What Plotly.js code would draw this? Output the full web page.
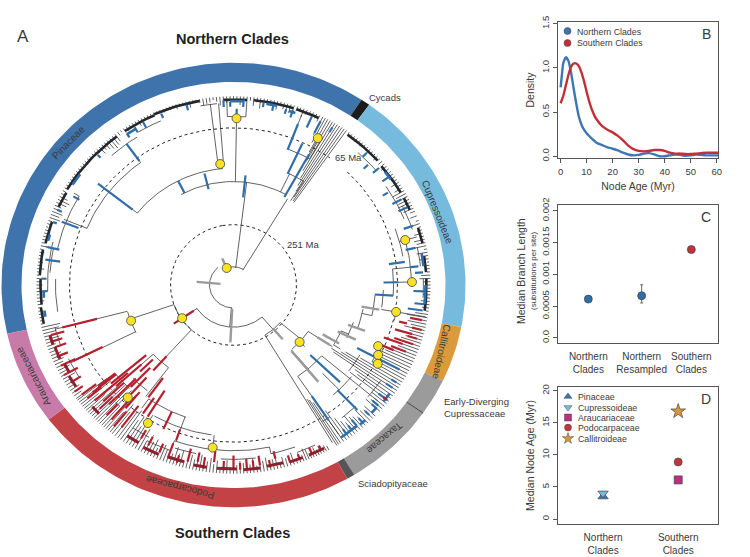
<!DOCTYPE html>
<html><head><meta charset="utf-8">
<script src="https://cdn.plot.ly/plotly-3.0.1.min.js"></script>
<style>html,body{margin:0;padding:0;background:#fff}</style></head>
<body><div id="chart" style="width:750px;height:557px"></div>
<script>
// ---------- Panel A: clade ring [name, start angle, end angle] (deg clockwise from top)
const ringNames = ['Pinaceae','Cycads','Cupressoideae','Callitroideae','Early-Diverging Cupressaceae','Taxaceae','Sciadopityaceae','Podocarpaceae','Araucariaceae'];
const ringStart = [-102.7,33.5,35.8,100.9,115.5,125.2,148.6,150.6,232.8];
const ringEnd   = [33.5,35.8,100.9,115.5,125.2,148.6,150.6,232.8,257.3];
const ringColor = ['#3f73ab','#1c1c1c','#76badd','#db9b3c','#9b9b9b','#9b9b9b','#555555','#c24245','#c87aa8'];
const ringInner = 212, ringOuter = 232;
const timeCircles = [164,63];   // 65 Ma, 251 Ma
const tipRadius = 197;

// internal arcs [radius, from angle, to angle]
const arcs = [
 [19,-21,31],[24,183,320],[44,139.5,236.6],
 [108,-29,29],[122,-52,-5],[158,-68,-36],[180,-78,-59],[186,-92,-76],[127,-7,-4.5],
 [178,-99,-88],[184,-86,-78],[182,-42,-32],[186,-31,-23],[190,-10,-5],[176,-2,4],[129,25,33],[152,21,30],
 [61,130,149],[89,123,139],[115,130,146],[118,114,122],[126,108,116],[132,101,110],[142,94,103],[150,92,99],
 [160,84,94],[178,74,89],[172,70,80],[165,99,103],[184,56,68],[186,42,50],[188,64,72],[188,78,84],[190,88,94],
 [146,120,128],[160,113,120],[152,129,139],[176,136,142],[178,124,131],[168,145,148],
 [63,221,251],[109.5,243,255],[108,217,228],[146,199,215.5],[158,188,210],[173,168,200],[182,238,245],[184,250,256],
 [180,192,199],[182,173,184],[184,200,208],[180,160,168],[180,208,214],[186,154,160],[170,222,224],[150,224,232],[140,218,226]
];
// internal radial branches [angle, from radius, to radius]
const branches = [
 [7,18,108],[31,18,105],[-21,19,24],[185,24,44],[275,24,26],[139.5,44,61],[236,44,63],
 [-52,122,158],[-36,158,182],[-68,158,183],[-59,180,186],[-78,180,192],[-27,108,122],[-6,122,127],[-7,127,190],[-4.5,127,190],
 [1,108,176],[-2,176,192],[4,176,192],[29,105,175],[25.8,108,129],[33,105,129],[21,152,190],[25,129,152],[30,152,175],
 [130,61,89],[149,61,192],[132,89,96],[123,89,118],[139.5,89,115],[146,115,188],[130,115,188],[133.6,115,128],
 [136,128,152],[122,118,126],[114,118,126],[110,126,132],[103,132,142],[94,142,160],[99.8,150,195],[89,160,178],[74.7,172,190],[84,160,178],
 [251,63,109.5],[255.5,109.5,184],[243.5,109.5,182],[222,63,108],[228,108,150],[217,108,146],[215.5,146,158],[199.4,146,173],
 [187,158,173],[168,173,180],[200,173,180],[210.7,158,172],[222,140,158]
];
// Tree tips: start radius of each tip line, all run out to tipRadius
const pinaceaeAngle = [-102,-101,-100,-99,-98,-97,-96,-95,-94,-93,-92,-91,-90,-89,-88,-87,-86,-85,-84,-83,-82,-81,-80,-79,-78,-77,-76,-75,-74,-73,-72,-71,-70,-69,-68,-67,-66,-65,-64,-63,-62,-61,-60,-59,-58,-57,-56,-55,-54,-53,-52,-51,-50,-49,-48,-47,-46,-45,-44,-43,-42,-41,-40,-39,-38,-37,-36,-35,-34,-33,-32,-31,-30,-29,-28,-27,-26,-25,-24,-23,-22,-21,-20,-19,-18,-17,-16,-15,-14,-13,-12,-11,-10,-9,-8,-7,-6,-5,-4,-3,-2,-1,0,1,2,3,4,5,6,7,8,9,10,11,12,13,14,15,16,17,18,19,20,21,22,23,24,25,26];
const pinaceaeStart = [193,194,193,192,194,193,192,190,193,195,192,193,191,193,194,195,193,190,194,192,195,193,192,195,188,194,192,193,191,193,195,192,193,186,188,186,188,190,186,184,188,193,194,193,194,193,195,193,195,194,193,194,195,194,193,195,194,193,192,188,190,188,186,184,186,188,193,195,192,189,194,192,194,190,195,195,194,195,194,194,195,193,195,193,194,192,195,194,193,190,195,194,193,190,191,192,194,192,188,192,190,193,192,192,188,186,192,193,188,192,186,193,191,195,192,188,193,190,186,188,190,192,195,188,192,193,195,192,190];
const cupressAngle = [36,37,38,39,40,41,42,43,44,45,46,47,48,49,50,51,52,53,54,55,56,57,58,59,60,61,62,63,64,65,66,67,68.5,70,71,72,73,74,75,76,77,78,79,80,81,82,83,84,85,86,87,88,89,90,91,92,93,94,95,96,97,98,99];
const cupressStart = [195,195,194,193,195,192,194,195,191,194,193,191,195,192,194,190,193,195,188,192,194,188,192,188,184,186,182,185,183,186,186,192,190,194,188,195,192,188,194,186,188,184,194,186,190,188,195,190,192,194,188,186,190,192,194,186,190,192,188,192,190,194,184];
const callitAngle = [100,101,102,103,104,105,106,107,108,109,110,111,112,113,114];
const callitStart = [176,180,178,182,176,182,178,180,176,178,172,176,170,174,166];
const fanAngle = [115,116,117,118,119,120,121,122,123,124,125,126,127,128,129,130,131,132];
const fanStart = [160,162,164,150,166,160,148,132,128,118,122,150,155,148,178,184,182,178];
const taxaceaeAngle = [134,135,136,137,138,139,140,141,142,143,144,145,146,147,147.7,148.3];
const taxaceaeStart = [182,184,182,178,185,182,180,176,182,178,172,160,150,146,142,140];
const podoAngle = [151,151.8,152.6,153.4,154.2,155,155.8,156.6,157.4,158.2,159,160,161,162,163,164,165,166,167,168,169,170,171,172,173,174,175,176,177,178,179,180,181,182,183,184,185,186,187,188,189,190,191,192,193,194,195,196,197,198,199,200,201,202,203,204,205,206,207,208,209,210,211,212,213,214,215,216,217];
const podoStart = [192,190,192,188,191,187,190,192,186,184,190,187,192,184,190,188,186,191,184,186,192,183,186,182,190,182,188,183,186,184,188,182,190,183,186,191,184,188,182,186,190,180,183,186,182,185,190,180,184,178,186,182,184,180,190,186,178,182,176,184,172,178,168,174,164,170,160,164,158];
const bigFanAngle = [218,218.8,219.6,220.4,221.2,222,222.8,223.6,224.4,225.2,226,226.8,227.6,228.4,229.2,230,230.8,231.6,232.4,233];
const bigFanStart = [168,160,172,150,162,170,150,156,142,165,150,168,152,172,160,176,158,172,160,176];
const arauAngle = [234,235,236,237,238,239,240,241,242,243,244,245,246,247,248,249,250,251,252,253,254,255,256,257];
const arauStart = [188,190,186,190,186,188,183,186,190,184,180,188,186,190,186,190,184,188,186,182,188,184,180,178];
const cycadAngle = [27,27.8,28.6,29.4,30.2,31,31.8,32.6,33.4,34.2,35];
const cycadStart = [176,168,158,148,138,130,122,116,110,106,105];
// dense tip clusters seen as a solid band [radius, from angle, to angle]
const bandDark = [[194,-102,-97],[193,-96,-88],[194,-87,-79],[193,-77,-70],[193,-65,-60],[194,-59,-37],[194,-34,-24],[195,-24,-10],[193.5,-3,4],[194,6,18],[194,19,26],[194,36,48],[193,50,60],[193,62,66],[194,72,77],[193,81,86],[193,88,98]];
const bandBlue = [[191,-100,-98],[190,-94,-92],[191,-76,-74],[192,-57,-53],[190,-34,-31],[192,-1,3],[192,10,13],[190,17,19],[192,52,55],[191,80,84],[192,90,96],[193,126,129],[192,132,134],[193,137,139],[192,140,146]];
const bandRed = [[190,236,240],[188,241,244],[190,246,250],[191,251,254],[193,152,157],[193,159,163],[192,165,170],[193,172,177],[192,179,185],[192,188,192],[191,195,200],[192,203,208],[190,210,214],[190,225,228]];

// thick branch-rate bars [angle, from radius, to radius]
const blueBars = [
 [-52,128,172],[-36,160,182],[-69,166,184],[-78,178,190],[-82,175,190],[-60,178,185],[-27,108,122],[-14,103,120],[6,92,115],
 [29,105,156],[25,128,163],[21,151,180],[1,174,184],[-31,186,192],[-28,186,193],[-92,186,192],[-88,187,192],[-70,188,192],
 [-66,188,193],[-45,188,192],[-34,186,191],[-22,188,193],[-14,188,194],[-3,186,193],[3,186,194],[-1,186,191],[9,188,193],[12,186,192],[16,186,191],[18,184,192],[24,180,193],[27,178,192],[31,186,192],
 [82,157,173],[84,178,186],[89,150,165],[94,142,160],[92,180,190],[78,176,186],[71,180,190],[86,182,190],[96,182,192],[98,176,191],[44,186,192],[50,182,190],[54,184,192],[58,176,182],[62,180,190],[65,182,192],[47,178,184],
 [133.6,106,147],[136.5,151,180],[146,140,170],[118,140,188],[122,186,192],[124,184,192],[128,184,192],[131,184,192],[132,186,193],[135,186,192],[138,187,193],[140,184,192],[142,186,192],[144,186,193]
];
const redBars = [
 [236,48,72],[255.5,141,177],[243.7,146,179],[222,100,120],[226,112,130],[230,114,160],[232,150,172],[228,124,158],[222,130,160],[224,120,148],[227,150,178],[220,146,168],
 [231,170,188],[229,170,184],[226,168,186],[223,170,186],[216,120,145],[212,130,162],[205,146,166],[199.5,160,172],[214,142,162],[217,158,186],[210,175,185],[207,178,188],
 [203,180,190],[194,176,190],[191,178,188],[186,174,186],[180,178,192],[176,182,192],[172,180,190],[167,178,186],[200,184,192],[197,186,194],[189,182,194],[183,184,194],[178,186,193],[174,184,194],[169,186,194],[163,186,194],[160,188,194],[156,186,194],[153,188,194],[200,176,184],
 [238,180,192],[241,178,194],[244,176,192],[247,180,192],[250,178,190],[252,180,192],[254,176,190],[235,184,194],[233,172,190],[231.5,150,180],[229,140,172],[225,138,176],[221,160,186],[219,170,190],
 [101,180,192],[103,170,178],[104,184,194],[106,168,186],[107,182,192],[109,170,190],[110,160,180],[112,170,186],[113,158,174],[128,190,195]
];
const grayBars = [[183,25,60],[275,13,37],[-22,23,30],[139,60,75],[140,90,132],[100,130,148],[110,122,140],[115,115,135],[120,103,122],[123,100,115]];
// yellow dated nodes
const nodeAngle = [-21,-6,1,28.8,74.7,89,99.8,113.8,116.8,119.7,132,236,250,222,210.7,187];
const nodeRadius = [19,127,174,175,178,178.5,165,158,162,166,89,62,109,158,167.6,171];

// ---------- Panel B: density curves
const ageNorth = [0,0.5,1,2,3,4,5,6,7,8,9,10,12,14,16,18,20,22,24,26,28,30,32,34,36,38,40,42,44,46,48,50,52,54,56,58,60.5];
const densNorth = [.78,.92,1.05,1.12,1.08,.95,.77,.6,.45,.36,.3,.26,.2,.15,.125,.1,.085,.065,.04,.02,.01,.015,.03,.035,.02,0,0,.01,.02,.015,.005,.01,.02,.015,.01,.01,.01];
const ageSouth = [0,1,2,3,4,5,6,7,8,9,10,11,12,13,14,16,18,20,22,24,26,28,30,32,34,36,38,40,42,44,46,48,50,52,54,56,58,60.5];
const densSouth = [.6,.68,.8,.92,1.01,1.05,1.05,1.02,.95,.85,.73,.62,.53,.46,.41,.34,.3,.27,.23,.18,.12,.08,.06,.055,.06,.07,.07,.06,.04,.03,.03,.025,.025,.03,.035,.04,.04,.04];
// ---------- Panel C
const branchGroups = ['Northern<br>Clades','Northern<br>Resampled','Southern<br>Clades'];
const branchPos = [1,2.02,2.97];
const branchMedian = [0.00061,0.000663,0.00139];
const branchErrUp = [0,0.000172,0];
const branchErrDown = [0,0.000113,0];
// ---------- Panel D
const ageClades = ['Pinaceae','Cupressoideae','Araucariaceae','Podocarpaceae','Callitroideae'];
const ageGroup = [1,1,2,2,2];
const ageMedian = [3.5,4,6.1,8.9,16.8];
const ageSymbol = ['triangle-up','triangle-down','square','circle','star'];
const ageColor = ['#3f73ab','#76badd','#b8307f','#c0363c','#d9963a'];

const YS = 0.958, W = 750, H = 557;
const rad = d => d*Math.PI/180;
const px = (r,t) => r*Math.sin(rad(t));
const py = (r,t) => r*Math.cos(rad(t));
function arcPts(r,a,b,X,Y){const n=Math.max(2,Math.ceil(Math.abs(b-a)/1.5));for(let i=0;i<=n;i++){const t=a+(b-a)*i/n;X.push(px(r,t));Y.push(py(r,t));}}
function radialTrace(list,color,width){const X=[],Y=[];list.forEach(b=>{X.push(px(b[1],b[0]),px(b[2],b[0]),null);Y.push(py(b[1],b[0]),py(b[2],b[0]),null);});
 return {type:'scatter',mode:'lines',x:X,y:Y,line:{color,width},hoverinfo:'skip',showlegend:false};}
function arcTrace(list,color,width){const X=[],Y=[];list.forEach(a=>{arcPts(a[0],a[1],a[2],X,Y);X.push(null);Y.push(null);});
 return {type:'scatter',mode:'lines',x:X,y:Y,line:{color,width},hoverinfo:'skip',showlegend:false};}

const traces = [];
// ring
ringNames.forEach((n,i)=>{const X=[],Y=[];arcPts(ringOuter,ringStart[i],ringEnd[i],X,Y);arcPts(ringInner,ringEnd[i],ringStart[i],X,Y);X.push(X[0]);Y.push(Y[0]);
 traces.push({type:'scatter',mode:'lines',x:X,y:Y,fill:'toself',fillcolor:ringColor[i],line:{width:0,color:ringColor[i]},name:n,showlegend:false,hoverinfo:'name'});});
traces.push(radialTrace([[125.2,ringInner,ringOuter]],'#444',1));
// time circles
timeCircles.forEach(r=>{const X=[],Y=[];const a0=r>100?44:-10;arcPts(r,a0,a0+ (r>100?352:360),X,Y);traces.push({type:'scatter',mode:'lines',x:X,y:Y,line:{color:'#222',width:1,dash:'3px,3px'},hoverinfo:'skip',showlegend:false});});
// tree
const tipList=[];[[pinaceaeAngle,pinaceaeStart],[cupressAngle,cupressStart],[callitAngle,callitStart],[fanAngle,fanStart],[taxaceaeAngle,taxaceaeStart],[podoAngle,podoStart],[bigFanAngle,bigFanStart],[arauAngle,arauStart],[cycadAngle,cycadStart]].forEach(p=>p[0].forEach((t,i)=>tipList.push([t,p[1][i],tipRadius])));
traces.push(radialTrace(tipList,'#2e2e2e',0.75));
traces.push(arcTrace(bandDark,'#23262b',2.6));
traces.push(arcTrace(arcs,'#3a3a3a',0.8));
traces.push(radialTrace(branches,'#3a3a3a',0.8));
traces.push(radialTrace(grayBars,'#9a9a9a',2.4));
traces.push(radialTrace(blueBars,'#2f6ea8',2.2));
traces.push(arcTrace(bandBlue,'#2f6ea8',2.6));
traces.push(radialTrace(redBars,'#b5202e',2.2));
traces.push(arcTrace(bandRed,'#8e1f2c',3));
traces.push({type:'scatter',mode:'markers',x:nodeAngle.map((t,i)=>px(nodeRadius[i],t)),y:nodeAngle.map((t,i)=>py(nodeRadius[i],t)),marker:{size:9,color:'#f8e225',line:{color:'#444',width:0.8}},hoverinfo:'skip',showlegend:false});

// Panel B
traces.push({type:'scatter',mode:'lines',x:ageNorth,y:densNorth,xaxis:'x2',yaxis:'y2',line:{color:'#3f76b5',width:2.4,shape:'spline',smoothing:0.6},showlegend:false,name:'Northern Clades'});
traces.push({type:'scatter',mode:'lines',x:ageSouth,y:densSouth,xaxis:'x2',yaxis:'y2',line:{color:'#bf3038',width:2.4,shape:'spline',smoothing:0.6},showlegend:false,name:'Southern Clades'});
// Panel C
traces.push({type:'scatter',mode:'markers',x:branchPos,y:branchMedian,xaxis:'x3',yaxis:'y3',error_y:{type:'data',symmetric:false,array:branchErrUp,arrayminus:branchErrDown,color:'#666',thickness:1,width:1.5},
 marker:{size:8,color:['#2f6ea8','#2f6ea8','#c0333c'],line:{color:'#444',width:0.7}},showlegend:false});
// Panel D
ageClades.forEach((n,i)=>traces.push({type:'scatter',mode:'markers',x:[ageGroup[i]],y:[ageMedian[i]],xaxis:'x4',yaxis:'y4',name:n,showlegend:false,
 marker:{size:i==4?11:(i<2?9:8),symbol:ageSymbol[i],color:ageColor[i],line:{color:'#444',width:0.7}}}));

const dx = (a,b)=>[a/W,b/W], dy=(top,bottom)=>[1-bottom/H,1-top/H];
const fontName='"Liberation Sans",Arial,sans-serif', ink='#3a3a3a';
const boxAxis = (o)=>Object.assign({showgrid:false,zeroline:false,showline:true,mirror:true,linecolor:'#555',linewidth:1.2,ticks:'outside',ticklen:4,tickwidth:1,tickcolor:'#555',tickfont:{size:9.5,color:ink,family:fontName}},o);
const layout = {
 width:W,height:H,autosize:false,margin:{l:0,r:0,t:0,b:0},paper_bgcolor:'#fff',plot_bgcolor:'rgba(0,0,0,0)',showlegend:false,font:{family:fontName,color:ink},
 xaxis:{domain:[0,1],range:[-233.5,516.5],visible:false,fixedrange:true},
 yaxis:{domain:[0,1],range:[-272/YS,285/YS],visible:false,fixedrange:true},
 xaxis2:boxAxis({domain:dx(558,718),anchor:'y2',range:[-1,60.5],tickvals:[0,10,20,30,40,50,60],title:{text:'Node Age (Myr)',font:{size:10.5,color:ink},standoff:7}}),
 yaxis2:boxAxis({domain:dy(22,158),anchor:'x2',range:[-0.02,1.52],tickvals:[0,0.5,1,1.5],ticktext:['0.0','0.5','1.0','1.5'],tickangle:-90,title:{text:'Density',font:{size:10.5,color:ink},standoff:3}}),
 xaxis3:boxAxis({domain:dx(558,718),anchor:'y3',range:[0.42,3.48],tickvals:branchPos,ticktext:branchGroups,ticks:'',ticklabelstandoff:4,tickfont:{size:10,color:ink,family:fontName}}),
 yaxis3:boxAxis({domain:dy(205,343),anchor:'x3',range:[-0.00008,0.00209],tickvals:[0,0.0005,0.001,0.0015,0.002],ticktext:['0.0','0.0005','0.001','0.0015','0.002'],tickangle:-90}),
 xaxis4:boxAxis({domain:dx(558,718),anchor:'y4',range:[0.4,2.53],tickvals:[1,2],ticktext:['Northern<br>Clades','Southern<br>Clades'],ticks:'',ticklabelstandoff:4,tickfont:{size:10,color:ink,family:fontName}}),
 yaxis4:boxAxis({domain:dy(387,524),anchor:'x4',range:[-0.78,20.6],tickvals:[0,5,10,15,20],tickangle:-90,title:{text:'Median Node Age (Myr)',font:{size:10.5,color:ink},standoff:3}}),
 annotations:[],shapes:[]
};
const note=(x,y,text,size,extra)=>layout.annotations.push(Object.assign({xref:'paper',yref:'paper',x:x/W,y:1-y/H,text,showarrow:false,font:{size,color:ink,family:fontName},xanchor:'center',yanchor:'middle'},extra||{}));
note(23,37,'A',17); note(233,39,'<b>Northern Clades</b>',14.5,{font:{size:14.5,color:'#222',family:fontName}}); note(233,533,'<b>Southern Clades</b>',14.5,{font:{size:14.5,color:'#222',family:fontName}});
note(385,97,'Cycads',9.5); note(348,157,'65 Ma',9.5); note(303,245,'251 Ma',9.5);
note(68,142,'Pinaceae',10,{textangle:-46}); note(438,212,'Cupressoideae',10,{textangle:68}); note(442,352,'Callitroideae',10,{textangle:102});
note(385,438,'Taxaceae',10,{textangle:140}); note(180,488,'Podocarpaceae',10,{textangle:194}); note(33,377,'Araucariaceae',10,{textangle:243});
note(393,483,'Sciadopityaceae',9.5); note(442,407,'Early-Diverging<br>Cupressaceae',9.5,{xanchor:'left',align:'left'});
note(706,34,'B',14); note(706,217,'C',14); note(706,399,'D',14);
note(521,271,'Median Branch Length',10.5,{textangle:-90}); note(533,271,'(substitutions per site)',8,{textangle:-90});
// legends in panels B and D
const mk=(xx,yy,symbol,color,size)=>{traces.push({type:'scatter',mode:'markers',x:[xx],y:[yy],xaxis:'x',yaxis:'y',marker:{symbol,color,size,line:{color:'#444',width:0.5}},hoverinfo:'skip',showlegend:false});};
const cx=p=>p-233.5, cy=p=>(285-p)/YS;
mk(cx(567.5),cy(31),'circle','#3f73ab',7); mk(cx(567.5),cy(43),'circle','#bf3038',7);
note(575,32,'Northern Clades',8.8,{xanchor:'left'}); note(575,43,'Southern Clades',8.8,{xanchor:'left'});
const legY=[397,408,418,428,439];
ageClades.forEach((n,i)=>{mk(cx(568),cy(legY[i]-0.5),ageSymbol[i],ageColor[i],i==4?8.5:7);note(576,legY[i],n,8.8,{xanchor:'left'});});
Plotly.newPlot('chart',traces,layout,{staticPlot:true,displayModeBar:false});
</script></body></html>
